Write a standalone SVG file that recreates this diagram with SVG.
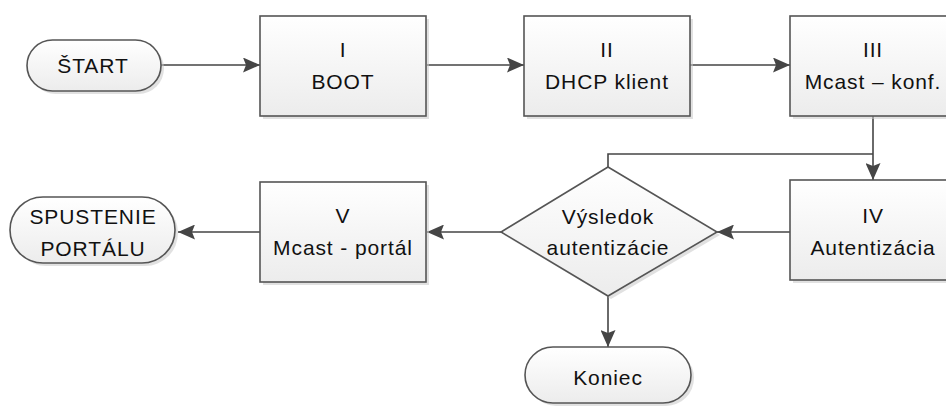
<svg xmlns="http://www.w3.org/2000/svg" width="946" height="410" viewBox="0 0 946 410">
<style>
.shape{fill:url(#g);stroke:#555;stroke-width:1.6}
.sh{fill:#c8c8c8;opacity:0.55}
.t{font-family:"Liberation Sans",Arial,sans-serif;font-size:21px;fill:#111;text-anchor:middle;letter-spacing:0.9px}
.c{fill:none;stroke:#454545;stroke-width:1.6}
</style>
<defs>
<linearGradient id="g" x1="0" y1="0" x2="0" y2="1">
<stop offset="0" stop-color="#ffffff"/>
<stop offset="1" stop-color="#ececec"/>
</linearGradient>
<marker id="a" viewBox="0 0 17 15" refX="17" refY="7.5" markerWidth="17" markerHeight="15" markerUnits="userSpaceOnUse" orient="auto">
<path d="M0,0 L17,7.5 L0,15 L3,7.5 Z" fill="#454545"/>
</marker>
</defs>
<rect width="946" height="410" fill="#fff"/>
<g id="connectors">
<path class="c" d="M161,65 H260" marker-end="url(#a)"/>
<path class="c" d="M427,65 H524" marker-end="url(#a)"/>
<path class="c" d="M690,65 H790" marker-end="url(#a)"/>
<path class="c" d="M873,116 V180" marker-end="url(#a)"/>
<path class="c" d="M608,167 V154 H873"/>
<path class="c" d="M790,232 H717" marker-end="url(#a)"/>
<path class="c" d="M501,232 H427" marker-end="url(#a)"/>
<path class="c" d="M260,232 H178" marker-end="url(#a)"/>
<path class="c" d="M608,296 V347" marker-end="url(#a)"/>
</g>
<g id="start">
<rect class="sh" x="30" y="43" width="134" height="51" rx="25.5"/>
<rect class="shape" x="27" y="40" width="134" height="51" rx="25.5"/>
<text class="t" x="93" y="73">ŠTART</text>
</g>
<g id="boot">
<rect class="sh" x="263" y="19" width="166" height="100"/>
<rect class="shape" x="260" y="16" width="166" height="100"/>
<text class="t" x="343" y="57">I</text>
<text class="t" x="343" y="89">BOOT</text>
</g>
<g id="dhcp">
<rect class="sh" x="527" y="19" width="166" height="100"/>
<rect class="shape" x="524" y="16" width="166" height="100"/>
<text class="t" x="607" y="57">II</text>
<text class="t" x="607" y="89">DHCP klient</text>
</g>
<g id="mcast-konf">
<rect class="sh" x="793" y="19" width="166" height="100"/>
<rect class="shape" x="790" y="16" width="166" height="100"/>
<text class="t" x="873" y="57">III</text>
<text class="t" x="873" y="89">Mcast – konf.</text>
</g>
<g id="autentizacia">
<rect class="sh" x="793" y="183" width="166" height="100"/>
<rect class="shape" x="790" y="180" width="166" height="100"/>
<text class="t" x="873" y="223">IV</text>
<text class="t" x="873" y="255">Autentizácia</text>
</g>
<g id="vysledok">
<path class="sh" d="M611,170 L720,235 L611,299 L504,235 Z"/>
<path class="shape" d="M608,167 L717,232 L608,296 L501,232 Z"/>
<text class="t" x="608" y="224">Výsledok</text>
<text class="t" x="608" y="255">autentizácie</text>
</g>
<g id="mcast-portal">
<rect class="sh" x="263" y="185" width="166" height="100"/>
<rect class="shape" x="260" y="182" width="166" height="100"/>
<text class="t" x="343" y="223">V</text>
<text class="t" x="343" y="255">Mcast - portál</text>
</g>
<g id="spustenie">
<rect class="sh" x="13" y="200" width="165" height="66" rx="33"/>
<rect class="shape" x="10" y="197" width="165" height="66" rx="33"/>
<text class="t" x="93" y="224">SPUSTENIE</text>
<text class="t" x="93" y="256">PORTÁLU</text>
</g>
<g id="koniec">
<rect class="sh" x="528" y="350" width="166" height="56" rx="28"/>
<rect class="shape" x="525" y="347" width="166" height="56" rx="28"/>
<text class="t" x="608" y="385">Koniec</text>
</g>
</svg>
